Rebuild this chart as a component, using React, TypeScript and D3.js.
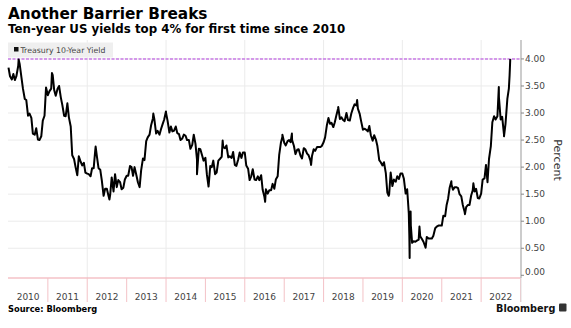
import React from "react";
import * as d3 from "d3";

// Semi-monthly readings (1st and 15th of each month), percent
const y2010 = [3.84, 3.68, 3.62, 3.72, 3.61, 3.68, 3.87, 3.90, 3.66, 3.45, 3.26, 3.24, 2.95, 2.99, 2.91, 2.62, 2.60, 2.72, 2.51, 2.50, 2.57, 2.86, 2.95, 3.47];
const y2011 = [3.33, 3.40, 3.45, 3.70, 3.42, 3.32, 3.45, 3.50, 3.29, 3.15, 2.95, 2.94, 3.18, 2.92, 2.75, 2.22, 2.15, 2.00, 1.85, 2.20, 2.10, 2.03, 2.08, 1.90];
const y2012 = [1.88, 1.87, 1.83, 1.98, 1.98, 2.30, 2.18, 1.98, 1.95, 1.76, 1.47, 1.60, 1.60, 1.48, 1.49, 1.81, 1.55, 1.87, 1.63, 1.76, 1.72, 1.59, 1.62, 1.77];
const y2013 = [1.84, 1.84, 2.02, 2.00, 1.84, 2.00, 1.85, 1.72, 1.63, 1.94, 2.16, 2.13, 2.48, 2.55, 2.60, 2.77, 2.90, 2.88, 2.62, 2.67, 2.60, 2.70, 2.80, 2.88];
const y2014 = [3.00, 2.86, 2.64, 2.75, 2.66, 2.67, 2.75, 2.63, 2.61, 2.50, 2.53, 2.60, 2.58, 2.50, 2.50, 2.34, 2.41, 2.60, 2.43, 2.14, 2.34, 2.33, 2.22, 2.12];
const y2015 = [2.17, 1.86, 1.68, 2.02, 2.00, 2.12, 1.87, 1.90, 2.12, 2.15, 2.19, 2.37, 2.35, 2.40, 2.18, 2.20, 2.17, 2.28, 2.04, 2.02, 2.14, 2.27, 2.17, 2.27];
const y2016 = [2.27, 2.03, 1.97, 1.76, 1.83, 1.96, 1.77, 1.76, 1.83, 1.76, 1.85, 1.58, 1.45, 1.59, 1.51, 1.57, 1.57, 1.69, 1.60, 1.77, 1.83, 2.22, 2.45, 2.56];
const y2017 = [2.45, 2.40, 2.48, 2.50, 2.46, 2.50, 2.39, 2.24, 2.32, 2.33, 2.21, 2.16, 2.35, 2.33, 2.25, 2.22, 2.12, 2.20, 2.33, 2.30, 2.37, 2.37, 2.37, 2.39];
const y2018 = [2.46, 2.55, 2.78, 2.91, 2.80, 2.82, 2.74, 2.83, 2.97, 3.08, 2.89, 2.92, 2.87, 2.85, 3.00, 2.87, 2.86, 2.99, 3.09, 3.16, 3.14, 3.08, 2.99, 2.85];
const y2019 = [2.69, 2.71, 2.69, 2.66, 2.76, 2.59, 2.49, 2.59, 2.51, 2.39, 2.13, 2.09, 2.03, 2.09, 1.89, 1.53, 1.50, 1.90, 1.65, 1.77, 1.73, 1.83, 1.78, 1.88];
const y2020 = [1.88, 1.79, 1.51, 1.59, 1.15, 0.73, 0.60, 0.63, 0.62, 0.64, 0.66, 0.72, 0.67, 0.62, 0.53, 0.71, 0.68, 0.68, 0.68, 0.73, 0.87, 0.90, 0.92, 0.92];
const y2021 = [0.92, 1.10, 1.09, 1.30, 1.42, 1.62, 1.68, 1.58, 1.63, 1.63, 1.61, 1.50, 1.46, 1.30, 1.17, 1.26, 1.30, 1.30, 1.48, 1.57, 1.55, 1.60, 1.43, 1.42];
const y2022 = [1.51, 1.77, 1.79, 2.04, 1.72, 2.15, 2.39, 2.83, 2.94, 2.88, 2.94, 3.29, 2.88, 2.93, 2.60, 2.80, 3.26, 3.45];

// Dated highs and lows between the semi-monthly readings
const spikes: [string, number][] = [
  ["2010-04-05", 3.99], ["2011-02-08", 3.74], ["2012-03-19", 2.38], ["2012-07-25", 1.40],
  ["2013-09-05", 2.99], ["2013-12-31", 3.03], ["2014-10-15", 1.87], ["2015-01-30", 1.64],
  ["2015-06-10", 2.49], ["2016-07-08", 1.36], ["2016-12-15", 2.60], ["2017-03-13", 2.62],
  ["2017-09-07", 2.04], ["2018-05-17", 3.11], ["2018-11-08", 3.24], ["2019-08-28", 1.47],
  ["2020-03-06", 0.74], ["2020-03-09", 0.32], ["2020-03-10", 0.76], ["2020-03-18", 1.18],
  ["2020-03-20", 0.92], ["2020-06-08", 0.90], ["2020-08-04", 0.51], ["2021-03-31", 1.74],
  ["2021-08-04", 1.13], ["2021-10-21", 1.70], ["2022-06-14", 3.48], ["2022-08-01", 2.57],
  ["2022-09-22", 3.70], ["2022-09-28", 4.00],
];

const yearSeries = [y2010, y2011, y2012, y2013, y2014, y2015, y2016, y2017, y2018, y2019, y2020, y2021, y2022];
const firstYear = 2010;
const yearLabels = ["2010", "2011", "2012", "2013", "2014", "2015", "2016", "2017", "2018", "2019", "2020", "2021", "2022"];
const yTicks = [0, 0.5, 1, 1.5, 2, 2.5, 3, 3.5, 4];
const threshold = 4;

const W = 571;
const H = 328;

export default function App() {
  const parse = d3.timeParse("%Y-%m-%d");
  const pts: { d: Date; v: number }[] = [];
  yearSeries.forEach((arr, i) => {
    arr.forEach((v, j) => {
      const m = Math.floor(j / 2);
      const day = j % 2 === 0 ? 1 : 15;
      pts.push({ d: new Date(firstYear + i, m, day), v });
    });
  });
  spikes.forEach(([s, v]) => pts.push({ d: parse(s) as Date, v }));
  pts.sort((a, b) => +a.d - +b.d);

  const x = d3.scaleTime().domain([new Date(2010, 0, 1), new Date(2023, 0, 1)]).range([8.5, 520.5]);
  const y = d3.scaleLinear().domain([-0.05, 4.35]).range([278, 40]);

  const line = d3.line<{ d: Date; v: number }>().x((p) => x(p.d)).y((p) => y(p.v));
  const yearStarts = d3.range(yearLabels.length + 1).map((i) => new Date(firstYear + i, 0, 1));
  const evenGrid = yearStarts.filter((d) => d.getFullYear() % 2 === 0 && d.getFullYear() > 2010 && d.getFullYear() < 2023);

  const sans = "DejaVu Sans";
  return (
    <svg width={W} height={H} style={{ position: "absolute", left: 0, top: 0, background: "#fff" }}>
      <text x={8} y={18.5} fontFamily={sans} fontWeight="bold" fontSize={15.3} fill="#000">Another Barrier Breaks</text>
      <text x={8} y={32.7} fontFamily={sans} fontWeight="bold" fontSize={11.8} fill="#000">Ten-year US yields top 4% for first time since 2010</text>

      {/* horizontal grid */}
      {yTicks.filter((t) => t > 0).map((t) => (
        <line key={"h" + t} x1={8} x2={520.5} y1={y(t)} y2={y(t)} stroke="#ebebeb" strokeWidth={1} />
      ))}
      {/* vertical grid */}
      {evenGrid.map((d) => (
        <line key={"v" + d.getFullYear()} x1={x(d)} x2={x(d)} y1={40} y2={278} stroke="#ebebeb" strokeWidth={1} />
      ))}

      {/* legend */}
      <rect x={8} y={42.5} width={105} height={15} fill="#efefef" />
      <rect x={14} y={47} width={4.5} height={4.5} fill="#111" />
      <text x={20.5} y={53.3} fontFamily={sans} fontSize={7.8} fill="#444">Treasury 10-Year Yield</text>

      {/* threshold */}
      <line x1={8} x2={520.5} y1={y(threshold)} y2={y(threshold)} stroke="#c97be6" strokeWidth={1.6} strokeDasharray="3,1.5" />

      {/* zero / base line and year ticks */}
      <line x1={8} x2={520.5} y1={278} y2={278} stroke="#f0a4ac" strokeWidth={1.2} />
      {yearStarts.slice(1).map((d) => (
        <line key={"t" + d.getFullYear()} x1={x(d)} x2={x(d)} y1={278} y2={302} stroke="#f3c2c7" strokeWidth={1} />
      ))}
      {yearLabels.map((lab, i) => (
        <text key={lab} x={x(new Date(firstYear + i, 6, 2))} y={299.5} textAnchor="middle" fontFamily={sans} fontSize={9} fill="#444">{lab}</text>
      ))}

      {/* right axis */}
      <line x1={521} x2={521} y1={40} y2={278} stroke="#999" strokeWidth={1} />
      <line x1={521} x2={521} y1={278} y2={302} stroke="#ddd" strokeWidth={1} />
      {yTicks.map((t) => (
        <g key={"y" + t}>
          <line x1={521} x2={524} y1={y(t)} y2={y(t)} stroke="#888" strokeWidth={1} />
          <text x={525} y={y(t) + (t === 0 ? -3.5 : 0)} dy="0.35em" fontFamily={sans} fontSize={9} fill="#444">{t.toFixed(2)}</text>
        </g>
      ))}
      <text transform={`translate(554,160) rotate(90)`} textAnchor="middle" fontFamily={sans} fontSize={11} fill="#333">Percent</text>

      {/* series */}
      <path d={line(pts) || ""} fill="none" stroke="#000" strokeWidth={2} strokeLinejoin="round" />

      {/* footer */}
      <text x={8} y={312} fontFamily={sans} fontWeight="bold" fontSize={8.3} fill="#000">Source: Bloomberg</text>
      <text x={496} y={312} fontFamily={sans} fontWeight="bold" fontSize={9.7} fill="#111">Bloomberg</text>
      <rect x={559} y={303.5} width={7.5} height={8} rx={1} fill="#333" />
    </svg>
  );
}
